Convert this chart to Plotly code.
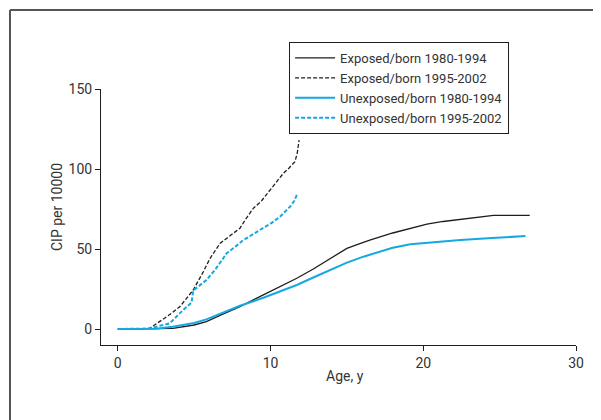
import plotly.graph_objects as go

# cumulative incidence (CIP per 10000) by age
exp_old_age = [0, 1.5, 2.5, 3.6, 5.0, 5.8, 6.69, 8.0, 9.53, 10.6, 11.72, 12.8, 13.9, 15.0, 15.8, 16.5, 18.0, 19.2, 20.24, 21.3, 22.43, 23.5, 24.6, 25.8, 26.97]
exp_old_cip = [0, 0, 0.1, 0.4, 2.5, 4.6, 8.5, 14.0, 21.3, 26.5, 31.7, 37.5, 44.2, 50.4, 53.2, 55.6, 60.0, 63.2, 65.6, 67.2, 68.5, 69.7, 71.0, 71.0, 71.0]

exp_new_age = [0, 1.5, 2.1, 2.75, 3.4, 4.07, 4.5, 4.94, 5.6, 6.03, 6.69, 7.3, 8.0, 8.4, 8.87, 9.4, 9.97, 10.4, 10.84, 11.2, 11.6, 11.75, 11.87]
exp_new_cip = [0, 0, 0.5, 4.6, 9.0, 14.0, 19.0, 24.4, 35.8, 44.0, 53.5, 58.0, 63.0, 69.0, 75.4, 80.0, 86.9, 92.0, 97.3, 100.5, 104.6, 110.0, 118.0]

unexp_old_age = [0, 1.5, 2.5, 3.6, 5.0, 5.8, 6.69, 8.0, 9.53, 10.6, 11.72, 12.8, 13.9, 15.0, 16.08, 17.07, 18.0, 19.15, 20.8, 22.43, 24.5, 26.69]
unexp_old_cip = [0, 0, 0.2, 1.4, 3.8, 6.0, 9.5, 14.5, 19.5, 23.5, 27.5, 32.2, 36.9, 41.5, 45.2, 48.3, 50.8, 52.9, 54.4, 55.6, 56.8, 58.1]

unexp_new_age = [0, 1.5, 2.1, 2.75, 3.4, 4.28, 4.83, 4.94, 5.8, 6.36, 7.13, 7.7, 8.22, 8.9, 9.53, 10.1, 10.62, 11.28, 11.55, 11.72]
unexp_new_cip = [0, 0, 0.3, 2.0, 3.5, 11.9, 16.5, 24.0, 30.6, 36.9, 47.3, 51.5, 55.6, 59.5, 63.0, 66.5, 70.2, 76.5, 80.0, 83.8]

series_names = ["Exposed/born 1980-1994", "Exposed/born 1995-2002",
                "Unexposed/born 1980-1994", "Unexposed/born 1995-2002"]

x_ticks = [0, 10, 20, 30]
y_ticks = [0, 50, 100, 150]

FONT = "Roboto, Arial, sans-serif"
BLACK = "#1e1e1e"
BLUE = "#16a8e3"

fig = go.Figure()
fig.add_trace(go.Scatter(x=exp_old_age, y=exp_old_cip, name=series_names[0], mode="lines",
                         line=dict(color=BLACK, width=1.3)))
fig.add_trace(go.Scatter(x=exp_new_age, y=exp_new_cip, name=series_names[1], mode="lines",
                         line=dict(color=BLACK, width=1.3, dash="4px,2px")))
fig.add_trace(go.Scatter(x=unexp_old_age, y=unexp_old_cip, name=series_names[2], mode="lines",
                         line=dict(color=BLUE, width=2)))
fig.add_trace(go.Scatter(x=unexp_new_age, y=unexp_new_cip, name=series_names[3], mode="lines",
                         line=dict(color=BLUE, width=2, dash="4px,2px")))

axis_style = dict(showgrid=False, zeroline=False, showline=True, linecolor=BLACK, linewidth=1,
                  ticks="outside", ticklen=5, tickcolor=BLACK, tickwidth=1,
                  tickfont=dict(family=FONT, size=14, color="#333"))

fig.update_xaxes(range=[-1.1, 30], tickvals=x_ticks, **axis_style)
fig.update_yaxes(range=[-10, 150], tickvals=y_ticks, **axis_style)

# page body adds an 8px offset, so the figure is sized to fit the window
fig.update_layout(
    width=593, height=412,
    margin=dict(l=93, r=25, t=81, b=75),
    plot_bgcolor="white", paper_bgcolor="white",
    font=dict(family=FONT, size=13.5, color="#333"),
    showlegend=True,
    legend=dict(x=0.396, y=1.1836, xanchor="left", yanchor="top",
                bordercolor=BLACK, borderwidth=1, bgcolor="white",
                font=dict(family=FONT, size=13, color="#333"),
                tracegroupgap=0, itemwidth=40),
    annotations=[
        dict(text="Age, y", x=0.514, y=-0.16, xref="paper", yref="paper",
             showarrow=False, font=dict(family=FONT, size=14, color="#333")),
        dict(text="CIP per 10000", x=-0.1137, y=0.539, xref="paper", yref="paper",
             showarrow=False, textangle=-90, font=dict(family=FONT, size=14, color="#333")),
    ],
    shapes=[
        dict(type="line", xref="paper", yref="paper", x0=-0.1916, x1=-0.1916, y0=-0.5, y1=1.3086,
             line=dict(color="#555", width=2)),
        dict(type="line", xref="paper", yref="paper", x0=-0.1916, x1=1.2, y0=1.3086, y1=1.3086,
             line=dict(color="#555", width=2)),
    ],
)

fig.write_html("out.html")
